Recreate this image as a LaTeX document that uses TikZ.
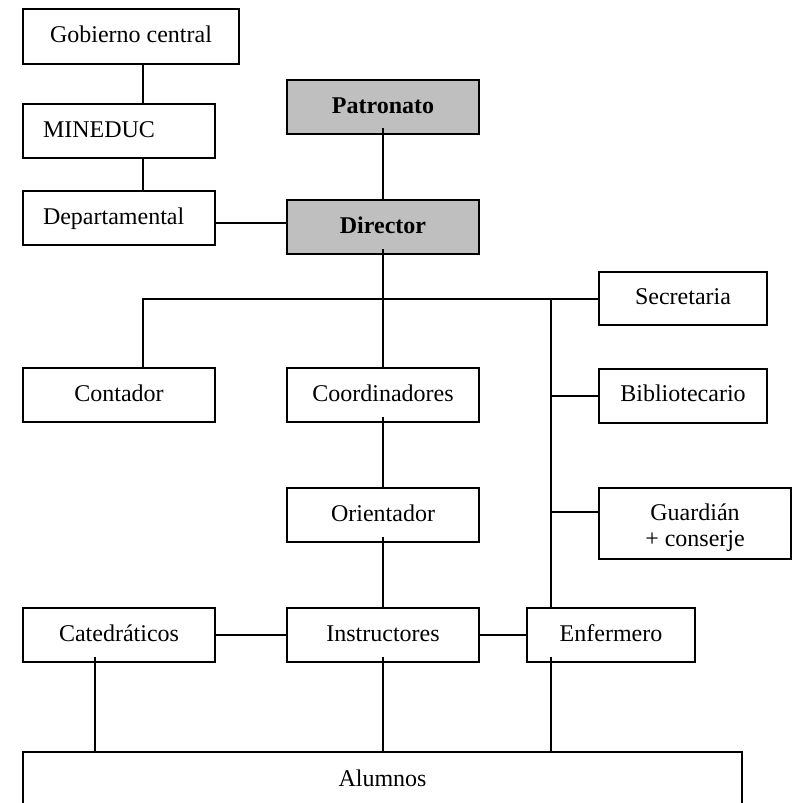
\documentclass[tikz,border=0pt]{standalone}
\usepackage{fontspec}
\setmainfont{Liberation Serif}
\usetikzlibrary{positioning, calc}

\begin{document}
\begin{tikzpicture}[x=0.5pt,y=-0.5pt,inner sep=0pt,line width=1pt,
  box/.style={draw,rectangle,minimum width=96pt,minimum height=27pt,text height=8.5pt,text depth=2.5pt,font=\fontsize{12}{14}\selectfont},
  boss/.style={box,fill=gray!50,font=\fontsize{12}{14}\selectfont\bfseries},
  leftbox/.style={box,text width=76pt,align=left}]
\useasboundingbox (0,0) rectangle (792,803);
\coordinate (lcol)  at (143,0);
\coordinate (ccol)  at (95,0);
\coordinate (trunk) at (551,0);
% upper chain
\draw node [box,minimum width=108pt,minimum height=27.5pt] (gob) at (131,36.5) {Gobierno central};
\draw node [leftbox] (mined) at (119,131) {MINEDUC};
\draw node [leftbox] (dep)   at (119,218) {Departamental};
\draw node [boss] (pat) at (383,107) {Patronato};
\draw node [boss] (dir) at (383,227) {Director};
% staff
\draw node [box,minimum width=84pt,minimum height=26.5pt] (sec) at (683,298.5) {Secretaria};
\draw node [box] (cont)  at (119,395) {Contador};
\draw node [box] (coord) at (383,395) {Coordinadores};
\draw node [box,minimum width=84pt] (bib) at (683,395.5) {Bibliotecario};
\draw node [box] (ori) at (383,515) {Orientador};
\draw node [box,minimum height=35.5pt] (guard) at (695,523.5) {};
\node [align=center,font=\fontsize{12}{13}\selectfont] (guardtxt) at ([yshift=-2pt]guard.center) {Guardián\\+ conserje};
\draw node [box] (cat)  at (119,635) {Catedráticos};
\draw node [box] (inst) at (383,635) {Instructores};
\draw node [box,minimum width=84pt] (enf) at (611,635) {Enfermero};
\draw node [box,minimum width=359.5pt,minimum height=28pt] (alum) at (382.5,780) {Alumnos};
% connectors
\draw (gob.south -| lcol) -- (mined.north -| lcol);
\draw (mined.south -| lcol) -- (dep.north -| lcol);
\draw ([yshift=-2.5pt]dep.east) -- ([yshift=-2.5pt]dep.east -| dir.west);
\draw ([yshift=3.5pt]pat.south) -- (dir.north);
\draw ([yshift=3pt]dir.south) -- (coord.north);
\draw (cont.north -| lcol) |- (sec.west);
\draw (sec.west -| trunk) -- (enf.north -| trunk);
\draw (bib.west -| trunk) -- (bib.west);
\draw ([yshift=5.75pt]guard.west -| trunk) -- ([yshift=5.75pt]guard.west);
\draw ([yshift=3pt]coord.south) -- (ori.north);
\draw ([yshift=3pt]ori.south) -- (inst.north);
\draw (cat.east) -- (inst.west);
\draw (inst.east) -- (enf.west);
\draw ([yshift=3pt]cat.south -| ccol) -- (alum.north -| ccol);
\draw ([yshift=3pt]inst.south) -- (inst.south |- alum.north);
\draw ([yshift=3pt]enf.south -| trunk) -- (alum.north -| trunk);
\end{tikzpicture}
\end{document}
